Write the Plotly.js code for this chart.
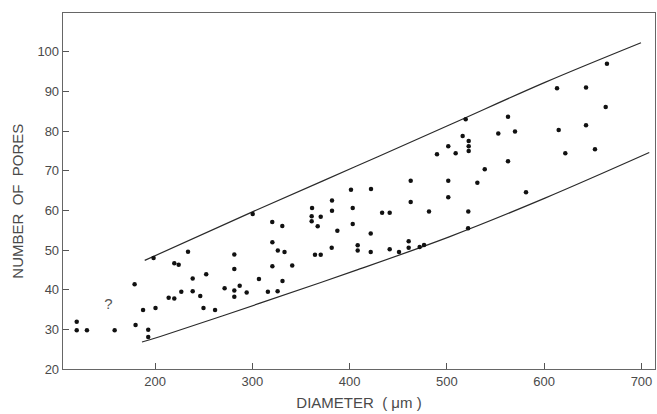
<!DOCTYPE html>
<html>
<head>
<meta charset="utf-8">
<script src="https://cdn.plot.ly/plotly-3.0.1.min.js"></script>
<style>html,body{margin:0;padding:0;background:#fff;}#chart{width:657px;height:414px;}</style>
</head>
<body>
<div id="chart"></div>
<script>
// Measured pores: diameter (µm) and number of pores
const diameter = [119.5,119.5,130,158.5,179,180,187.7,193,193,200.5,198.5,214,219.8,219.8,224.3,227,233.9,238.7,238.7,246.5,249.8,252.6,261.7,271.5,281.5,281.5,281.5,281.5,287,294.2,300.4,306.8,316,320.5,320.6,320.6,326.2,326,330.8,331,333.1,341,361.4,361,361,370.3,367.2,381.9,381.9,387.4,381.6,364.4,370.3,401.4,403.2,403.2,422,433.4,441.2,421.7,408.3,408.3,421.7,441.2,450.8,460.7,460.7,472,476.5,462.8,462.8,481.6,489.8,501.4,501.4,501.4,509,516.2,519.3,522.4,522.4,522.4,522,521.8,531.3,538.9,552.8,562.8,570,562.8,581.3,613.2,614.9,621.7,643,643,652.2,663.2,664.5];
const pores = [31.9,29.8,29.8,29.8,41.4,31.1,34.9,29.9,28.1,35.4,48.0,38.0,37.8,46.7,46.3,39.5,49.6,42.8,39.6,38.4,35.4,43.9,34.9,40.4,48.9,45.2,39.8,38.2,41.0,39.3,59.1,42.7,39.5,57.1,52.0,45.9,49.9,39.6,56.1,42.2,49.5,46.1,60.6,58.5,57.3,58.4,56.0,62.5,59.9,54.9,50.6,48.8,48.8,65.2,60.6,56.6,65.4,59.4,59.4,54.2,51.2,49.9,49.5,50.2,49.5,52.2,50.6,50.8,51.3,67.5,62.1,59.7,74.2,76.2,67.5,63.3,74.4,78.8,83.0,77.5,76.2,75.0,59.7,55.5,67.0,70.4,79.4,83.6,79.9,72.4,64.6,90.8,80.3,74.4,91.0,81.5,75.4,86.1,97.0];

// Envelope lines
const upperX = [189.4,307.9,405.5,503,600.8,699.5];
const upperY = [47.4,60.5,71.0,81.6,92.3,102.3];
const lowerX = [186.6,205.4,307.9,405.5,503,600.8,708];
const lowerY = [26.8,28.2,36.6,44.8,53.4,63.1,74.6];

// Uncertain point marker
const queryX = [152];
const queryY = [36.1];
const queryText = ['?'];

const xTicks = [200,300,400,500,600,700];
const yTicks = [20,30,40,50,60,70,80,90,100];

const fontFam = 'Liberation Sans, Arial, sans-serif';
const txtColor = '#4a4a4a';

const traces = [
  {x: upperX, y: upperY, mode: 'lines', type: 'scatter', line: {color: '#2a2a2a', width: 1.2, shape: 'spline'}, hoverinfo: 'skip'},
  {x: lowerX, y: lowerY, mode: 'lines', type: 'scatter', line: {color: '#2a2a2a', width: 1.2, shape: 'spline'}, hoverinfo: 'skip'},
  {x: diameter, y: pores, mode: 'markers', type: 'scatter', marker: {color: '#111', size: 4.5}},
  {x: queryX, y: queryY, mode: 'text', type: 'scatter', text: queryText, textfont: {family: fontFam, size: 15, color: '#555'}, textposition: 'middle center'}
];

const layout = {
  width: 657, height: 414,
  margin: {l: 63, r: 2, t: 13, b: 45},
  paper_bgcolor: '#fff', plot_bgcolor: '#fff',
  showlegend: false,
  font: {family: fontFam, color: txtColor, size: 13},
  xaxis: {
    range: [105.4, 713.9], tickvals: xTicks, ticktext: xTicks.map(String),
    ticks: 'inside', ticklen: 6, tickcolor: '#555', tickwidth: 1,
    showline: true, linecolor: '#666', linewidth: 1.3, mirror: true,
    showgrid: false, zeroline: false,
    tickfont: {family: fontFam, size: 13, color: txtColor},
    title: {text: 'DIAMETER  ( μm )', font: {family: fontFam, size: 15, color: txtColor}, standoff: 9}
  },
  yaxis: {
    range: [20, 109.8], tickvals: yTicks, ticktext: yTicks.map(String),
    ticks: 'inside', ticklen: 6, tickcolor: '#555', tickwidth: 1,
    showline: true, linecolor: '#666', linewidth: 1.3, mirror: true,
    showgrid: false, zeroline: false,
    tickfont: {family: fontFam, size: 13, color: txtColor}
  },
  annotations: [{
    text: 'NUMBER  OF  PORES', xref: 'paper', yref: 'paper',
    x: -45 / 592, y: 0.47, xanchor: 'center', yanchor: 'middle',
    textangle: -90, showarrow: false,
    font: {family: fontFam, size: 15, color: txtColor}
  }]
};

Plotly.newPlot('chart', traces, layout, {staticPlot: true, displayModeBar: false});
</script>
</body>
</html>
